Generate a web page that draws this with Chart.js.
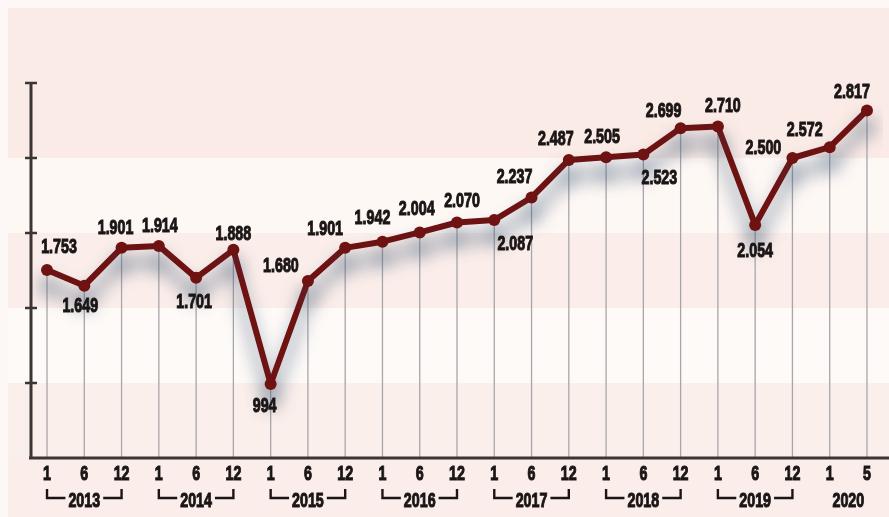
<!DOCTYPE html>
<html>
<head>
<meta charset="utf-8">
<script src="https://cdn.jsdelivr.net/npm/chart.js@4/dist/chart.umd.min.js"></script>
<style>
  html, body { margin: 0; padding: 0; background: #fdf7f5; }
  #wrap { width: 889px; height: 517px; }
</style>
</head>
<body>
<div id="wrap"><canvas id="chart" width="889" height="517"></canvas></div>
<script>
// index (monthly snapshots) 2013 - 2020
const MONTHS = ['1', '6', '12', '1', '6', '12', '1', '6', '12', '1', '6', '12',
                '1', '6', '12', '1', '6', '12', '1', '6', '12', '1', '5'];
const YEARS = ['2013', '2013', '2013', '2014', '2014', '2014', '2015', '2015', '2015',
               '2016', '2016', '2016', '2017', '2017', '2017', '2018', '2018', '2018',
               '2019', '2019', '2019', '2020', '2020'];
const VALUES = [1753, 1649, 1901, 1914, 1701, 1888, 994, 1680, 1901, 1942, 2004, 2070,
                2087, 2237, 2487, 2505, 2523, 2699, 2710, 2054, 2500, 2572, 2817];
const Y_TICKS = [1000, 1500, 2000, 2500, 3000];

// where each value label sits relative to its point
const LABEL_SHIFT = [[12, -23], [-4, 21], [-6, -20], [1, -20], [-2, 24], [0, -16], [-6, 22],
                     [-27, -15], [-20, -19], [-10, -23], [-3, -23], [5, -21], [21, 24],
                     [-17, -20], [-13, -21], [-4, -20], [16, 24], [-17, -17], [5, -20],
                     [0, 26], [-29, -10], [-25, -17], [-15, -18]];

const FAMILY = "'Liberation Sans', Arial, 'DejaVu Sans', sans-serif";
const SQUEEZE = 0.68;  // condensed look for all numerals
const INK = '#1b1616';
const LINE = '#6e1212';
const AXIS = '#3b3535';

const fmt = v => String(v).replace(/\B(?=(\d{3})+(?!\d))/g, '.');

function heavyText(ctx, text, x, y) {
  ctx.save();
  ctx.translate(x, y);
  ctx.scale(SQUEEZE, 1);
  ctx.fillText(text, 0, 0);
  ctx.strokeText(text, 0, 0);
  ctx.restore();
}

const decor = {
  id: 'decor',
  beforeDraw(chart) {
    const { ctx, width, height, scales: { y } } = chart;
    ctx.save();
    ctx.fillStyle = '#fbeeea';
    ctx.fillRect(8, 8, width - 8, height - 8);
    // alternating horizontal bands between the y ticks
    const edges = [y.getPixelForValue(3000), y.getPixelForValue(2500), y.getPixelForValue(2000),
                   y.getPixelForValue(1500), y.getPixelForValue(1000), y.getPixelForValue(500)];
    const fills = ['#fbebe6', '#fef8f5', '#fbeeea', '#fefaf8', '#fbefeb'];
    ctx.fillStyle = fills[0];
    ctx.fillRect(8, 8, width - 8, edges[1] - 8);
    for (let i = 1; i < fills.length; i++) {
      ctx.fillStyle = fills[i];
      ctx.fillRect(8, edges[i], width - 8, edges[i + 1] - edges[i]);
    }
    ctx.restore();
  },
  beforeDatasetsDraw(chart) {
    // thin drop lines from every point to the baseline
    const { ctx, scales: { y } } = chart;
    const base = y.getPixelForValue(500);
    const pts = chart.getDatasetMeta(0).data;
    ctx.save();
    ctx.strokeStyle = '#a7a6ab';
    ctx.lineWidth = 1.3;
    pts.forEach(p => {
      ctx.beginPath();
      ctx.moveTo(p.x, p.y);
      ctx.lineTo(p.x, base);
      ctx.stroke();
    });
    ctx.restore();
  },
  beforeDatasetDraw(chart) {
    const ctx = chart.ctx;
    ctx.save();
    ctx.shadowColor = 'rgba(60, 88, 118, 0.75)';
    ctx.shadowBlur = 18;
    ctx.shadowOffsetY = 16;
  },
  afterDatasetDraw(chart) {
    chart.ctx.restore();
  },
  afterDatasetsDraw(chart) {
    const { ctx } = chart;
    const pts = chart.getDatasetMeta(0).data;
    ctx.save();
    ctx.font = 'bold 21px ' + FAMILY;
    ctx.fillStyle = INK;
    ctx.strokeStyle = INK;
    ctx.lineWidth = 1.1;
    ctx.textAlign = 'center';
    ctx.textBaseline = 'middle';
    pts.forEach((p, i) => {
      const [dx, dy] = LABEL_SHIFT[i];
      heavyText(ctx, fmt(VALUES[i]), p.x + dx, p.y + dy);
    });
    ctx.restore();
  },
  afterDraw(chart) {
    const { ctx, width, scales: { x, y } } = chart;
    const left = x.getPixelForValue(x.min);
    const top = y.getPixelForValue(3000);
    const base = y.getPixelForValue(500);
    ctx.save();
    ctx.strokeStyle = AXIS;
    ctx.lineWidth = 3;
    ctx.beginPath();
    ctx.moveTo(left, top);
    ctx.lineTo(left, base);
    ctx.moveTo(left - 2, base);
    ctx.lineTo(width, base);
    ctx.stroke();
    ctx.lineWidth = 2.5;
    Y_TICKS.forEach(t => {
      const py = y.getPixelForValue(t);
      ctx.beginPath();
      ctx.moveTo(left - 6, py);
      ctx.lineTo(left + 6, py);
      ctx.stroke();
    });

    // month row and year row with brackets
    ctx.font = 'bold 21px ' + FAMILY;
    ctx.fillStyle = INK;
    ctx.strokeStyle = INK;
    ctx.textAlign = 'center';
    ctx.textBaseline = 'middle';
    ctx.lineWidth = 1.1;
    MONTHS.forEach((m, i) => heavyText(ctx, m, x.getPixelForValue(i), base + 16));

    const groups = [];
    YEARS.forEach((yr, i) => {
      const g = groups[groups.length - 1];
      if (g && g.year === yr) g.last = i;
      else groups.push({ year: yr, first: i, last: i });
    });
    const yRow = base + 43;
    groups.forEach(g => {
      const x0 = x.getPixelForValue(g.first);
      const x1 = x.getPixelForValue(g.last);
      const cx = (x0 + x1) / 2;
      ctx.lineWidth = 1.1;
      heavyText(ctx, g.year, cx, yRow);
      if (MONTHS[g.last] !== '12') return;
      const half = ctx.measureText(g.year).width * SQUEEZE / 2;
      ctx.lineWidth = 2.4;
      ctx.beginPath();
      ctx.moveTo(x0, yRow - 12);
      ctx.lineTo(x0, yRow - 3);
      ctx.lineTo(cx - half - 3, yRow - 3);
      ctx.moveTo(cx + half + 3, yRow - 3);
      ctx.lineTo(x1, yRow - 3);
      ctx.lineTo(x1, yRow - 12);
      ctx.stroke();
    });
    ctx.restore();
  }
};

new Chart(document.getElementById('chart'), {
  type: 'line',
  data: {
    datasets: [{
      data: VALUES.map((v, i) => ({ x: i, y: v })),
      borderColor: LINE,
      backgroundColor: LINE,
      borderWidth: 6,
      pointRadius: 6,
      pointBackgroundColor: LINE,
      pointBorderWidth: 0,
      tension: 0,
      borderJoinStyle: 'round',
      borderCapStyle: 'round'
    }]
  },
  options: {
    responsive: false,
    animation: false,
    devicePixelRatio: 1,
    layout: { padding: { left: 31, right: 0, top: 83, bottom: 59 } },
    scales: {
      x: { type: 'linear', min: -0.43, max: 22.43, display: false },
      y: { min: 500, max: 3000, display: false }
    },
    plugins: { legend: { display: false }, tooltip: { enabled: false } }
  },
  plugins: [decor]
});
</script>
</body>
</html>
